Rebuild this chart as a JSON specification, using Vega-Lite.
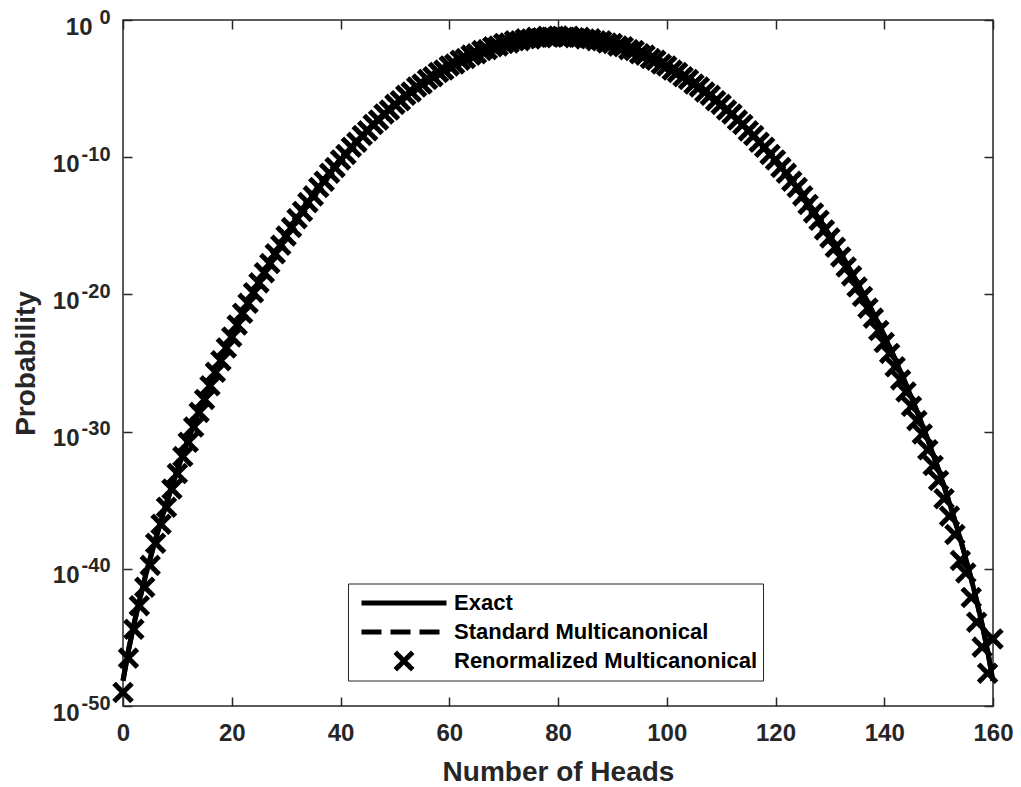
{
 "$schema": "https://vega.github.io/schema/vega-lite/v6.json",
 "width": 870, "height": 686,
 "autosize": {"type": "none"},
 "padding": {"left": 123, "top": 20, "right": 28, "bottom": 81},
 "background": "white",
 "config": {
  "view": {"stroke": "#262626", "strokeWidth": 1.5},
  "axis": {"grid": false, "domain": false, "tickColor": "#262626", "tickWidth": 1.5, "tickSize": -9, "labelFlush": false,
           "labelColor": "#262626", "titleColor": "#262626", "labelFont": "Liberation Sans", "titleFont": "Liberation Sans",
           "labelFontWeight": "bold", "titleFontWeight": "bold", "labelFontSize": 24, "titleFontSize": 28}
 },
 "data": {"values": [
  {"k":0,"exact":-48.16,"standard":-48.16,"renormalized":-49.01},
  {"k":1,"exact":-45.96,"standard":-45.96,"renormalized":-46.51},
  {"k":2,"exact":-44.06,"standard":-44.06,"renormalized":-44.41},
  {"k":3,"exact":-42.34,"standard":-42.34,"renormalized":-42.69},
  {"k":4,"exact":-40.74,"standard":-40.74,"renormalized":-41.34},
  {"k":5,"exact":-39.25,"standard":-39.25,"renormalized":-39.75},
  {"k":6,"exact":-37.84,"standard":-37.84,"renormalized":-38.14},
  {"k":7,"exact":-36.50,"standard":-36.50,"renormalized":-36.75},
  {"k":8,"exact":-35.21,"standard":-35.21,"renormalized":-35.51},
  {"k":9,"exact":-33.99,"standard":-33.99,"renormalized":-34.19},
  {"k":10,"exact":-32.81,"standard":-32.81,"renormalized":-33.06},
  {"k":11,"exact":-31.67,"standard":-31.67,"renormalized":-31.82},
  {"k":12,"exact":-30.58,"standard":-30.58,"renormalized":-30.78},
  {"k":13,"exact":-29.52,"standard":-29.52,"renormalized":-29.67},
  {"k":14,"exact":-28.50,"standard":-28.50,"renormalized":-28.60},
  {"k":15,"exact":-27.51,"standard":-27.51,"renormalized":-27.66},
  {"k":16,"exact":-26.56,"standard":-26.56,"renormalized":-26.66},
  {"k":17,"exact":-25.63,"standard":-25.63,"renormalized":-25.68},
  {"k":18,"exact":-24.73,"standard":-24.73,"renormalized":-24.83},
  {"k":19,"exact":-23.85,"standard":-23.85,"renormalized":-23.90},
  {"k":20,"exact":-23.01,"standard":-23.01,"renormalized":-23.11},
  {"k":21,"exact":-22.18,"standard":-22.18,"renormalized":-22.23},
  {"k":22,"exact":-21.38,"standard":-21.38,"renormalized":-21.38},
  {"k":23,"exact":-20.60,"standard":-20.60,"renormalized":-20.65},
  {"k":24,"exact":-19.85,"standard":-19.85,"renormalized":-19.88},
  {"k":25,"exact":-19.11,"standard":-19.11,"renormalized":-19.16},
  {"k":26,"exact":-18.40,"standard":-18.40,"renormalized":-18.42},
  {"k":27,"exact":-17.70,"standard":-17.70,"renormalized":-17.75},
  {"k":28,"exact":-17.02,"standard":-17.02,"renormalized":-17.04},
  {"k":29,"exact":-16.37,"standard":-16.37,"renormalized":-16.41},
  {"k":30,"exact":-15.73,"standard":-15.73,"renormalized":-15.75},
  {"k":31,"exact":-15.10,"standard":-15.10,"renormalized":-15.13},
  {"k":32,"exact":-14.50,"standard":-14.50,"renormalized":-14.48},
  {"k":33,"exact":-13.91,"standard":-13.91,"renormalized":-13.95},
  {"k":34,"exact":-13.34,"standard":-13.34,"renormalized":-13.31},
  {"k":35,"exact":-12.78,"standard":-12.78,"renormalized":-12.82},
  {"k":36,"exact":-12.24,"standard":-12.24,"renormalized":-12.21},
  {"k":37,"exact":-11.71,"standard":-11.71,"renormalized":-11.75},
  {"k":38,"exact":-11.20,"standard":-11.20,"renormalized":-11.17},
  {"k":39,"exact":-10.71,"standard":-10.71,"renormalized":-10.75},
  {"k":40,"exact":-10.23,"standard":-10.23,"renormalized":-10.20},
  {"k":41,"exact":-9.76,"standard":-9.76,"renormalized":-9.80},
  {"k":42,"exact":-9.31,"standard":-9.31,"renormalized":-9.28},
  {"k":43,"exact":-8.87,"standard":-8.87,"renormalized":-8.91},
  {"k":44,"exact":-8.45,"standard":-8.45,"renormalized":-8.42},
  {"k":45,"exact":-8.04,"standard":-8.04,"renormalized":-8.08},
  {"k":46,"exact":-7.64,"standard":-7.64,"renormalized":-7.61},
  {"k":47,"exact":-7.25,"standard":-7.25,"renormalized":-7.29},
  {"k":48,"exact":-6.88,"standard":-6.88,"renormalized":-6.85},
  {"k":49,"exact":-6.52,"standard":-6.52,"renormalized":-6.56},
  {"k":50,"exact":-6.18,"standard":-6.18,"renormalized":-6.15},
  {"k":51,"exact":-5.84,"standard":-5.84,"renormalized":-5.88},
  {"k":52,"exact":-5.52,"standard":-5.52,"renormalized":-5.49},
  {"k":53,"exact":-5.21,"standard":-5.21,"renormalized":-5.25},
  {"k":54,"exact":-4.91,"standard":-4.91,"renormalized":-4.88},
  {"k":55,"exact":-4.63,"standard":-4.63,"renormalized":-4.67},
  {"k":56,"exact":-4.36,"standard":-4.36,"renormalized":-4.33},
  {"k":57,"exact":-4.09,"standard":-4.09,"renormalized":-4.13},
  {"k":58,"exact":-3.85,"standard":-3.85,"renormalized":-3.82},
  {"k":59,"exact":-3.61,"standard":-3.61,"renormalized":-3.65},
  {"k":60,"exact":-3.38,"standard":-3.38,"renormalized":-3.35},
  {"k":61,"exact":-3.17,"standard":-3.17,"renormalized":-3.21},
  {"k":62,"exact":-2.96,"standard":-2.96,"renormalized":-2.93},
  {"k":63,"exact":-2.77,"standard":-2.77,"renormalized":-2.81},
  {"k":64,"exact":-2.59,"standard":-2.59,"renormalized":-2.56},
  {"k":65,"exact":-2.42,"standard":-2.42,"renormalized":-2.46},
  {"k":66,"exact":-2.26,"standard":-2.26,"renormalized":-2.23},
  {"k":67,"exact":-2.12,"standard":-2.12,"renormalized":-2.16},
  {"k":68,"exact":-1.98,"standard":-1.98,"renormalized":-1.95},
  {"k":69,"exact":-1.86,"standard":-1.86,"renormalized":-1.90},
  {"k":70,"exact":-1.74,"standard":-1.74,"renormalized":-1.71},
  {"k":71,"exact":-1.64,"standard":-1.64,"renormalized":-1.68},
  {"k":72,"exact":-1.55,"standard":-1.55,"renormalized":-1.52},
  {"k":73,"exact":-1.47,"standard":-1.47,"renormalized":-1.51},
  {"k":74,"exact":-1.40,"standard":-1.40,"renormalized":-1.37},
  {"k":75,"exact":-1.34,"standard":-1.34,"renormalized":-1.38},
  {"k":76,"exact":-1.29,"standard":-1.29,"renormalized":-1.26},
  {"k":77,"exact":-1.25,"standard":-1.25,"renormalized":-1.29},
  {"k":78,"exact":-1.22,"standard":-1.22,"renormalized":-1.19},
  {"k":79,"exact":-1.21,"standard":-1.21,"renormalized":-1.25},
  {"k":80,"exact":-1.20,"standard":-1.20,"renormalized":-1.17},
  {"k":81,"exact":-1.21,"standard":-1.21,"renormalized":-1.25},
  {"k":82,"exact":-1.22,"standard":-1.22,"renormalized":-1.19},
  {"k":83,"exact":-1.25,"standard":-1.25,"renormalized":-1.29},
  {"k":84,"exact":-1.29,"standard":-1.29,"renormalized":-1.26},
  {"k":85,"exact":-1.34,"standard":-1.34,"renormalized":-1.38},
  {"k":86,"exact":-1.40,"standard":-1.40,"renormalized":-1.37},
  {"k":87,"exact":-1.47,"standard":-1.47,"renormalized":-1.51},
  {"k":88,"exact":-1.55,"standard":-1.55,"renormalized":-1.52},
  {"k":89,"exact":-1.64,"standard":-1.64,"renormalized":-1.68},
  {"k":90,"exact":-1.74,"standard":-1.74,"renormalized":-1.71},
  {"k":91,"exact":-1.86,"standard":-1.86,"renormalized":-1.90},
  {"k":92,"exact":-1.98,"standard":-1.98,"renormalized":-1.95},
  {"k":93,"exact":-2.12,"standard":-2.12,"renormalized":-2.16},
  {"k":94,"exact":-2.26,"standard":-2.26,"renormalized":-2.23},
  {"k":95,"exact":-2.42,"standard":-2.42,"renormalized":-2.46},
  {"k":96,"exact":-2.59,"standard":-2.59,"renormalized":-2.56},
  {"k":97,"exact":-2.77,"standard":-2.77,"renormalized":-2.81},
  {"k":98,"exact":-2.96,"standard":-2.96,"renormalized":-2.93},
  {"k":99,"exact":-3.17,"standard":-3.17,"renormalized":-3.21},
  {"k":100,"exact":-3.38,"standard":-3.38,"renormalized":-3.35},
  {"k":101,"exact":-3.61,"standard":-3.61,"renormalized":-3.65},
  {"k":102,"exact":-3.85,"standard":-3.85,"renormalized":-3.82},
  {"k":103,"exact":-4.09,"standard":-4.09,"renormalized":-4.13},
  {"k":104,"exact":-4.36,"standard":-4.36,"renormalized":-4.33},
  {"k":105,"exact":-4.63,"standard":-4.63,"renormalized":-4.67},
  {"k":106,"exact":-4.91,"standard":-4.91,"renormalized":-4.88},
  {"k":107,"exact":-5.21,"standard":-5.21,"renormalized":-5.25},
  {"k":108,"exact":-5.52,"standard":-5.52,"renormalized":-5.49},
  {"k":109,"exact":-5.84,"standard":-5.84,"renormalized":-5.88},
  {"k":110,"exact":-6.18,"standard":-6.18,"renormalized":-6.15},
  {"k":111,"exact":-6.52,"standard":-6.52,"renormalized":-6.56},
  {"k":112,"exact":-6.88,"standard":-6.88,"renormalized":-6.85},
  {"k":113,"exact":-7.25,"standard":-7.25,"renormalized":-7.29},
  {"k":114,"exact":-7.64,"standard":-7.64,"renormalized":-7.61},
  {"k":115,"exact":-8.04,"standard":-8.04,"renormalized":-8.08},
  {"k":116,"exact":-8.45,"standard":-8.45,"renormalized":-8.42},
  {"k":117,"exact":-8.87,"standard":-8.87,"renormalized":-8.91},
  {"k":118,"exact":-9.31,"standard":-9.31,"renormalized":-9.28},
  {"k":119,"exact":-9.76,"standard":-9.76,"renormalized":-9.80},
  {"k":120,"exact":-10.23,"standard":-10.23,"renormalized":-10.20},
  {"k":121,"exact":-10.71,"standard":-10.71,"renormalized":-10.75},
  {"k":122,"exact":-11.20,"standard":-11.20,"renormalized":-11.17},
  {"k":123,"exact":-11.71,"standard":-11.71,"renormalized":-11.75},
  {"k":124,"exact":-12.24,"standard":-12.24,"renormalized":-12.21},
  {"k":125,"exact":-12.78,"standard":-12.78,"renormalized":-12.82},
  {"k":126,"exact":-13.34,"standard":-13.34,"renormalized":-13.44},
  {"k":127,"exact":-13.91,"standard":-13.91,"renormalized":-14.06},
  {"k":128,"exact":-14.50,"standard":-14.50,"renormalized":-14.60},
  {"k":129,"exact":-15.10,"standard":-15.10,"renormalized":-15.30},
  {"k":130,"exact":-15.73,"standard":-15.73,"renormalized":-15.88},
  {"k":131,"exact":-16.37,"standard":-16.37,"renormalized":-16.57},
  {"k":132,"exact":-17.02,"standard":-17.02,"renormalized":-17.27},
  {"k":133,"exact":-17.70,"standard":-17.70,"renormalized":-18.00},
  {"k":134,"exact":-18.40,"standard":-18.40,"renormalized":-18.65},
  {"k":135,"exact":-19.11,"standard":-19.11,"renormalized":-19.46},
  {"k":136,"exact":-19.85,"standard":-19.85,"renormalized":-20.15},
  {"k":137,"exact":-20.60,"standard":-20.60,"renormalized":-21.00},
  {"k":138,"exact":-21.38,"standard":-21.38,"renormalized":-21.73},
  {"k":139,"exact":-22.18,"standard":-22.18,"renormalized":-22.63},
  {"k":140,"exact":-23.01,"standard":-23.01,"renormalized":-23.51},
  {"k":141,"exact":-23.85,"standard":-23.85,"renormalized":-24.30},
  {"k":142,"exact":-24.73,"standard":-24.73,"renormalized":-25.28},
  {"k":143,"exact":-25.63,"standard":-25.63,"renormalized":-26.23},
  {"k":144,"exact":-26.56,"standard":-26.56,"renormalized":-27.11},
  {"k":145,"exact":-27.51,"standard":-27.51,"renormalized":-28.16},
  {"k":146,"exact":-28.50,"standard":-28.50,"renormalized":-29.20},
  {"k":147,"exact":-29.52,"standard":-29.52,"renormalized":-30.17},
  {"k":148,"exact":-30.58,"standard":-30.58,"renormalized":-31.33},
  {"k":149,"exact":-31.67,"standard":-31.67,"renormalized":-32.47},
  {"k":150,"exact":-32.81,"standard":-32.81,"renormalized":-33.56},
  {"k":151,"exact":-33.99,"standard":-33.99,"renormalized":-34.89},
  {"k":152,"exact":-35.21,"standard":-35.21,"renormalized":-36.16},
  {"k":153,"exact":-36.50,"standard":-36.50,"renormalized":-37.50},
  {"k":154,"exact":-37.84,"standard":-37.84,"renormalized":-39.39},
  {"k":155,"exact":-39.25,"standard":-39.25,"renormalized":-40.30},
  {"k":156,"exact":-40.74,"standard":-40.74,"renormalized":-42.09},
  {"k":157,"exact":-42.34,"standard":-42.34,"renormalized":-43.89},
  {"k":158,"exact":-44.06,"standard":-44.06,"renormalized":-45.71},
  {"k":159,"exact":-45.96,"standard":-45.96,"renormalized":-47.61},
  {"k":160,"exact":-48.16,"standard":-48.16,"renormalized":-45.11}
 ]},
 "layer": [
  {
   "mark": {"type": "line", "color": "black", "strokeWidth": 5},
   "encoding": {
    "x": {"field": "k", "type": "quantitative", "scale": {"domain": [0, 160], "nice": false, "zero": false},
          "axis": {"values": [0, 20, 40, 60, 80, 100, 120, 140, 160], "title": "Number of Heads", "labelPadding": 24,
                   "titleX": 435, "titleY": 74, "titleBaseline": "alphabetic"}},
    "y": {"field": "exact", "type": "quantitative", "scale": {"domain": [-50, 0], "nice": false, "zero": false},
          "axis": {"values": [-50, -40, -30, -20, -10, 0], "title": "Probability", "labelExpr": "'10'",
                   "labelPadding": {"condition": {"test": "datum.value == 0", "value": 40}, "value": 53},
                   "labelOffset": 7, "labelAlign": "right", "labelBaseline": "middle",
                   "titleX": -89, "titleY": 343, "titleAngle": -90, "titleBaseline": "alphabetic"}},
    "strokeDash": {"datum": "Exact", "type": "nominal",
      "scale": {"domain": ["Exact", "Standard Multicanonical", "Renormalized Multicanonical"], "range": [[1, 0], [20, 9], [1, 0]]},
      "legend": {
        "orient": "none", "legendX": 225, "legendY": 563.5, "title": null, "direction": "vertical",
        "strokeColor": "#262626", "fillColor": "white", "padding": 5,
        "symbolType": {"expr": "datum.value === 'Renormalized Multicanonical' ? 'M-1,-1L1,1M-1,1L1,-1' : 'stroke'"},
        "symbolSize": {"expr": "datum.value === 'Renormalized Multicanonical' ? 300 : 7225"},
        "symbolStrokeWidth": 5, "symbolStrokeColor": "black", "symbolFillColor": "transparent", "symbolOffset": 6,
        "labelFont": "Liberation Sans", "labelFontWeight": "bold", "labelFontSize": 22, "labelColor": "black", "labelOffset": 5,
        "labelExpr": "datum.label + '\u00a0'",
        "clipHeight": 29, "rowPadding": 0, "labelLimit": 0
      }}
   }
  },
  {
   "mark": {"type": "line", "color": "black", "strokeWidth": 5},
   "encoding": {
    "x": {"field": "k", "type": "quantitative", "axis": {"orient": "top", "values": [0, 20, 40, 60, 80, 100, 120, 140, 160], "labels": false, "title": null}},
    "y": {"field": "standard", "type": "quantitative", "axis": {"orient": "right", "values": [-50, -40, -30, -20, -10, 0], "labels": false, "title": null}},
    "strokeDash": {"datum": "Standard Multicanonical", "type": "nominal"}
   }
  },
  {
   "mark": {"type": "point", "shape": "M-1,-1L1,1M-1,1L1,-1", "filled": false, "color": "black", "strokeWidth": 5, "size": 324, "opacity": 1},
   "encoding": {
    "x": {"field": "k", "type": "quantitative", "axis": null},
    "y": {"field": "renormalized", "type": "quantitative",
          "axis": {"orient": "left", "values": [-50, -40, -30, -20, -10, 0], "ticks": false, "title": null,
                   "labelExpr": "'' + datum.value", "labelFontSize": 20, "labelPadding": 13, "labelAlign": "right",
                   "labelBaseline": "middle", "labelOffset": -3}},
    "strokeDash": {"datum": "Renormalized Multicanonical", "type": "nominal"}
   }
  }
 ],
 "resolve": {"axis": {"x": "independent", "y": "independent"}}
}
